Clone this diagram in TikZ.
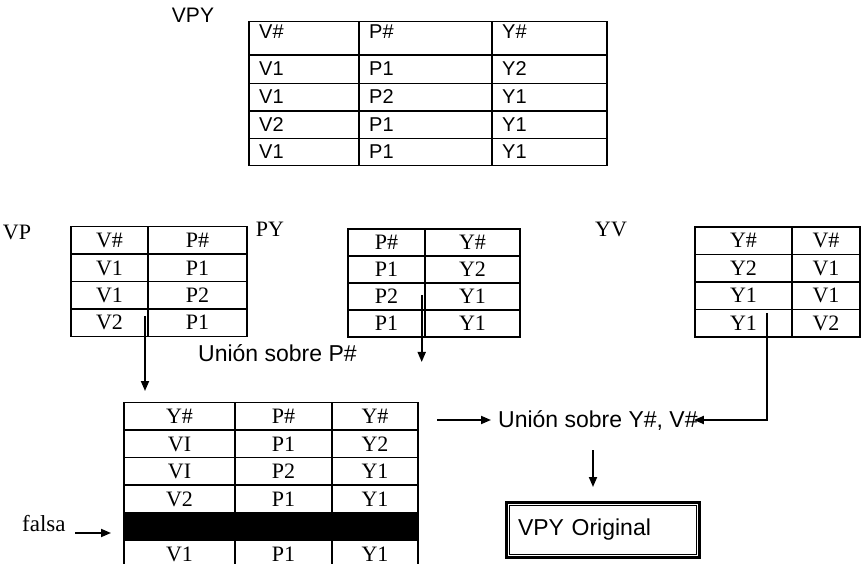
\documentclass[tikz,border=0pt]{standalone}
\usepackage{fontspec}
\setmainfont{Liberation Serif}
\setsansfont{Liberation Sans}
\usetikzlibrary{arrows.meta}

\tikzset{
    tbl/.style={line width=1.5pt, black},
    sanstxt/.style={font=\sffamily\fontsize{20}{24}\selectfont, inner sep=0pt},
    bigsans/.style={font=\sffamily\fontsize{23}{27}\selectfont, inner sep=0pt},
    seriftxt/.style={font=\rmfamily\fontsize{22}{26}\selectfont, inner sep=0pt},
    arr/.style={line width=1.8pt, -{Triangle[length=10pt, width=8pt]}},
    finalbox/.style={draw, line width=3pt, inner xsep=12pt,
        minimum width=193pt, minimum height=55pt, text width=169pt, align=left}
}

\begin{document}
\begin{tikzpicture}[x=1pt, y=-1pt]
    \useasboundingbox (0,0) rectangle (863,564);

    % --- RELATION VPY ---
    \node[sanstxt, font=\sffamily\fontsize{21}{25}\selectfont] (lblvpy) at (193,15) {VPY};
    \draw[tbl] (249,21.7) rectangle (607,165.7);
    \foreach \y in {55,83.3,111,138.3} \draw[tbl] (249,\y) -- (607,\y);
    \foreach \x in {359,492} \draw[tbl] (\x,21.7) -- (\x,165.7);
    \foreach \x/\label [count=\i] in {259/V\#, 369/P\#, 502/Y\#}
        \node[sanstxt, anchor=base west] (vpyh\i) at (\x,39) {\label};
    \foreach \v/\p/\q [count=\i] in {V1/P1/Y2, V1/P2/Y1, V2/P1/Y1, V1/P1/Y1} {
        \pgfmathsetmacro{\yy}{55+27.7*\i-7}
        \node[sanstxt, anchor=base west] (vpyv\i) at (259,\yy) {\v};
        \node[sanstxt, anchor=base west] (vpyp\i) at (369,\yy) {\p};
        \node[sanstxt, anchor=base west] (vpyy\i) at (502,\yy) {\q};
    }

    % --- PROJECTIONS VP, PY, YV ---
    \node[seriftxt] (lblvp) at (17,232) {VP};
    \draw[tbl] (71,226.7) rectangle (247,336.5);
    \foreach \y in {254.2,281.7,309.1} \draw[tbl] (71,\y) -- (247,\y);
    \draw[tbl] (148,226.7) -- (148,336.5);
    \foreach \a/\b [count=\i] in {V\#/P\#, V1/P1, V1/P2, V2/P1} {
        \pgfmathsetmacro{\yy}{226.7+27.45*\i-6.5}
        \node[seriftxt, anchor=base] (vpa\i) at (109.5,\yy) {\a};
        \node[seriftxt, anchor=base] (vpb\i) at (197.5,\yy) {\b};
    }

    \node[seriftxt] (lblpy) at (270,229) {PY};
    \draw[tbl] (348,229) rectangle (520,337);
    \foreach \y in {256,283,310} \draw[tbl] (348,\y) -- (520,\y);
    \draw[tbl] (425,229) -- (425,337);
    \foreach \a/\b [count=\i] in {P\#/Y\#, P1/Y2, P2/Y1, P1/Y1} {
        \pgfmathsetmacro{\yy}{229+27*\i-6.5}
        \node[seriftxt, anchor=base] (pya\i) at (386.5,\yy) {\a};
        \node[seriftxt, anchor=base] (pyb\i) at (472.5,\yy) {\b};
    }

    \node[seriftxt] (lblyv) at (611,229) {YV};
    \draw[tbl] (695,227) rectangle (860,337);
    \foreach \y in {254.5,282,309.5} \draw[tbl] (695,\y) -- (860,\y);
    \draw[tbl] (792,227) -- (792,337);
    \foreach \a/\b [count=\i] in {Y\#/V\#, Y2/V1, Y1/V1, Y1/V2} {
        \pgfmathsetmacro{\yy}{227+27.5*\i-6.5}
        \node[seriftxt, anchor=base] (yva\i) at (743.5,\yy) {\a};
        \node[seriftxt, anchor=base] (yvb\i) at (826,\yy) {\b};
    }

    % --- JOIN ON P# ---
    \coordinate (vpout) at (145,316);
    \coordinate (vpin) at (145,391);
    \draw[arr] (vpout) -- (vpin);
    \coordinate (pyout) at (421.7,295);
    \coordinate (pyin) at (421.7,362);
    \draw[arr] (pyout) -- (pyin);
    \node[bigsans, anchor=base west] (union1) at (198,362) {Unión sobre P\#};

    \fill[black] (124,512.5) rectangle (418,540);
    \draw[tbl] (124,564) -- (124,402.7) -- (418,402.7) -- (418,564);
    \foreach \y in {430,457.5,485,512.5,540} \draw[tbl] (124,\y) -- (418,\y);
    \foreach \x in {235,332} \draw[tbl] (\x,402.7) -- (\x,564);
    \foreach \a/\b/\c/\yy [count=\i] in {Y\#/P\#/Y\#/423.5, VI/P1/Y2/451, VI/P2/Y1/478.5,
                                          V2/P1/Y1/506, V1/P1/Y1/561} {
        \node[seriftxt, anchor=base] (joina\i) at (179.5,\yy) {\a};
        \node[seriftxt, anchor=base] (joinb\i) at (283.5,\yy) {\b};
        \node[seriftxt, anchor=base] (joinc\i) at (375,\yy) {\c};
    }
    \node[seriftxt, font=\rmfamily\fontsize{23}{27}\selectfont, anchor=base west] (lblfalsa) at (22,531) {falsa};
    \coordinate (falsaout) at (75,533);
    \coordinate (falsain) at (111,533);
    \draw[arr] (falsaout) -- (falsain);

    % --- JOIN ON Y#, V# ---
    \coordinate (joinout) at (437,420);
    \coordinate (joinin) at (491,420);
    \draw[arr] (joinout) -- (joinin);
    \node[bigsans, anchor=base west] (union2) at (498,428) {Unión sobre Y\#, V\#};
    \coordinate (yvout) at (767,313);
    \coordinate (yvin) at ([xshift=-4pt]union2.east |- joinin);
    \draw[arr] (yvout) |- (yvin);

    \coordinate (unionout) at (593,450);
    \coordinate (unionin) at (593,487);
    \draw[arr] (unionout) -- (unionin);
    \node[finalbox, bigsans, inner xsep=12pt] (vpyorig) at (602.5,529.5) {VPY Original};
    \draw[line width=0.9pt] ([shift={(4.5pt,4.5pt)}]vpyorig.south west)
        rectangle ([shift={(-4.5pt,-4.5pt)}]vpyorig.north east);

\end{tikzpicture}
\end{document}
